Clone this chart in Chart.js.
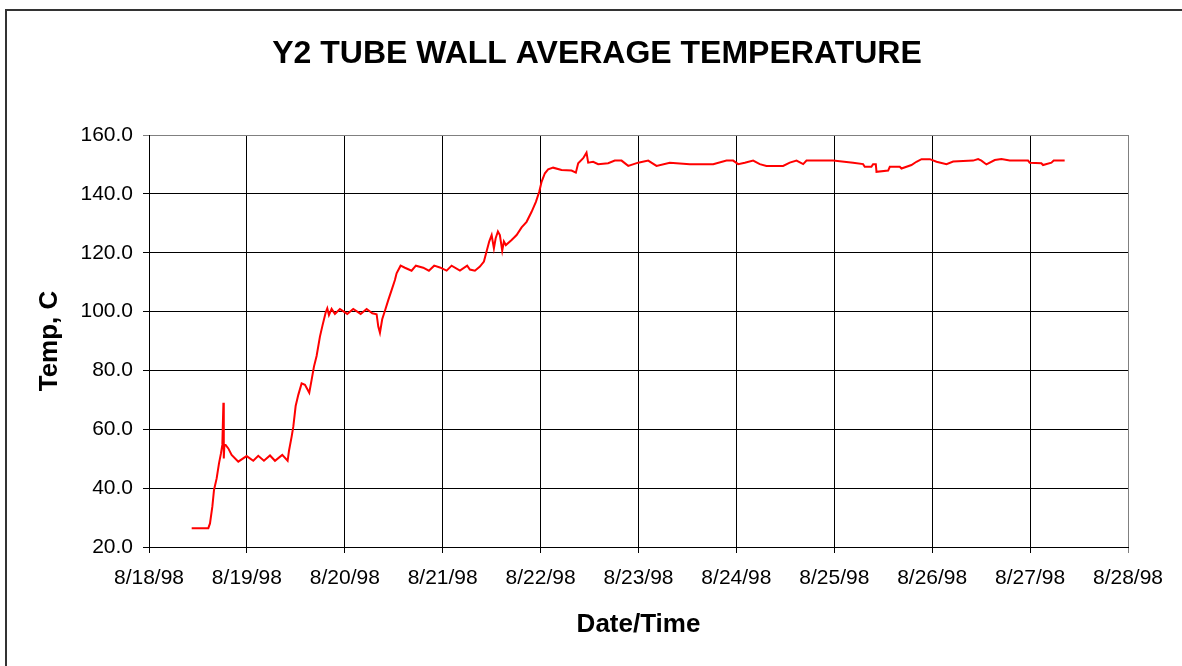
<!DOCTYPE html>
<html>
<head>
<meta charset="utf-8">
<script src="https://cdn.jsdelivr.net/npm/chart.js@4"></script>
<style>
  html, body { margin: 0; padding: 0; background: #fff; }
  #wrap { width: 1182px; height: 666px; }
</style>
</head>
<body>
<div id="wrap"><canvas id="tempChart"></canvas></div>
<script>
// Dados do gráfico (dias desde 8/18/98, temperatura em C)
const chartTitle = 'Y2 TUBE WALL AVERAGE TEMPERATURE';
const dateLabels = ['8/18/98', '8/19/98', '8/20/98', '8/21/98', '8/22/98', '8/23/98',
                    '8/24/98', '8/25/98', '8/26/98', '8/27/98', '8/28/98'];
const dayOffsets = [
  0.436, 0.606, 0.623, 0.647, 0.664, 0.691, 0.715, 0.735, 0.749, 0.760, 0.764, 0.770,
  0.783, 0.810, 0.844, 0.912, 0.997, 1.065, 1.116, 1.174, 1.236, 1.287, 1.361, 1.416,
  1.430, 1.457, 1.474, 1.498, 1.525, 1.559, 1.593, 1.637, 1.661, 1.685, 1.712, 1.746,
  1.773, 1.804, 1.821, 1.838, 1.865, 1.899, 1.950, 2.025, 2.086, 2.162, 2.223, 2.281,
  2.325, 2.342, 2.359, 2.382, 2.410, 2.444, 2.478, 2.512, 2.529, 2.570, 2.614, 2.682,
  2.726, 2.801, 2.859, 2.913, 2.971, 3.040, 3.091, 3.176, 3.250, 3.278, 3.329, 3.380,
  3.421, 3.448, 3.475, 3.500, 3.523, 3.541, 3.564, 3.584, 3.608, 3.625, 3.645, 3.704,
  3.755, 3.806, 3.857, 3.908, 3.952, 3.986, 4.010, 4.044, 4.077, 4.128, 4.214, 4.316,
  4.360, 4.384, 4.435, 4.469, 4.486, 4.537, 4.588, 4.690, 4.758, 4.827, 4.895, 4.997,
  5.099, 5.184, 5.320, 5.524, 5.763, 5.899, 5.967, 6.018, 6.086, 6.171, 6.239, 6.307,
  6.477, 6.545, 6.614, 6.682, 6.716, 6.988, 7.192, 7.294, 7.311, 7.379, 7.396, 7.424,
  7.431, 7.550, 7.567, 7.669, 7.686, 7.788, 7.839, 7.891, 7.976, 8.044, 8.146, 8.214,
  8.418, 8.469, 8.503, 8.554, 8.639, 8.707, 8.792, 8.979, 8.996, 9.115, 9.132, 9.218,
  9.241, 9.353
];
const temps = [
  26.4, 26.4, 28.0, 33.7, 39.4, 43.3, 48.4, 51.8, 54.7, 69.0, 50.1, 54.7,
  54.7, 53.5, 51.3, 49.0, 50.9, 49.3, 51.0, 49.3, 51.1, 49.3, 51.3, 49.3,
  52.7, 57.5, 60.9, 67.9, 71.7, 75.6, 75.1, 72.4, 76.8, 81.3, 84.9, 91.5,
  95.4, 99.6, 101.1, 98.8, 100.9, 99.2, 100.9, 99.2, 100.9, 99.2, 100.9, 99.4,
  99.1, 94.9, 92.8, 97.4, 100.3, 103.9, 107.3, 110.7, 113.0, 115.6, 114.9, 113.9,
  115.6, 114.9, 113.9, 115.6, 115.0, 113.9, 115.6, 113.9, 115.6, 114.3, 113.9, 115.3,
  117.0, 120.4, 123.8, 126.0, 121.5, 124.9, 127.2, 126.0, 120.7, 123.8, 122.6, 124.3,
  126.0, 128.6, 130.5, 133.9, 137.3, 140.7, 144.1, 147.0, 148.3, 148.9, 148.1, 147.9,
  147.2, 150.4, 152.1, 154.0, 150.6, 150.9, 150.1, 150.4, 151.3, 151.3, 149.5, 150.6,
  151.3, 149.5, 150.6, 150.1, 150.1, 151.3, 151.3, 150.1, 150.6, 151.3, 150.1, 149.5,
  149.5, 150.6, 151.3, 150.1, 151.3, 151.3, 150.6, 150.1, 149.2, 149.2, 150.1, 150.1,
  147.5, 147.9, 149.2, 149.2, 148.6, 149.8, 150.9, 151.8, 151.8, 150.9, 150.1, 151.0,
  151.3, 151.8, 151.3, 150.0, 151.5, 151.8, 151.3, 151.3, 150.6, 150.4, 149.8, 150.6,
  151.3, 151.3
];
const yMin = 20, yMax = 160, yStep = 20;

const FONT = "'Liberation Sans', Arial, sans-serif";

// Moldura e título desenhados no canvas
const framePlugin = {
  id: 'frame',
  afterDraw(chart) {
    const c = chart.ctx;
    c.save();
    c.strokeStyle = '#333';
    c.lineWidth = 2;
    c.strokeRect(6, 10, 1200, 700);
    c.fillStyle = '#000';
    c.font = 'bold 32px ' + FONT;
    c.textAlign = 'center';
    c.textBaseline = 'middle';
    c.fillText(chartTitle, 597, 54);
    c.restore();
  }
};

const ctx = document.getElementById('tempChart').getContext('2d');
new Chart(ctx, {
  type: 'line',
  data: {
    datasets: [{
      data: dayOffsets.map((d, i) => ({ x: d, y: temps[i] })),
      borderColor: '#FF0000',
      borderWidth: 2,
      pointRadius: 0,
      tension: 0,
      fill: false
    }]
  },
  options: {
    responsive: true,
    maintainAspectRatio: false,
    animation: false,
    layout: { padding: { left: 30, right: 54, top: 135, bottom: 22 } },
    plugins: {
      legend: { display: false },
      tooltip: { enabled: false }
    },
    scales: {
      x: {
        type: 'linear',
        min: 0, max: 10,
        afterFit(scale) { scale.height = 97; },
        ticks: {
          stepSize: 1,
          autoSkip: false,
          maxRotation: 0,
          padding: 13,
          color: '#000',
          font: { family: FONT, size: 21 },
          callback: (v, i) => dateLabels[i]
        },
        grid: {
          color: ctx => ctx.tick && ctx.tick.value === 10 ? '#808080' : '#000',
          lineWidth: 1,
          tickLength: 6
        },
        border: { color: '#000', width: 1 },
        title: {
          display: true,
          text: 'Date/Time',
          color: '#000',
          font: { family: FONT, size: 26, weight: 'bold' }
        }
      },
      y: {
        min: yMin, max: yMax,
        afterFit(scale) { scale.width = 119; },
        ticks: {
          stepSize: yStep,
          padding: 10,
          color: '#000',
          font: { family: FONT, size: 21 },
          callback: v => v.toFixed(1)
        },
        grid: {
          color: ctx => ctx.tick && ctx.tick.value === yMax ? '#808080' : '#000',
          lineWidth: 1,
          tickLength: 6
        },
        border: { color: '#000', width: 1 },
        title: {
          display: true,
          text: 'Temp, C',
          color: '#000',
          font: { family: FONT, size: 26, weight: 'bold' }
        }
      }
    }
  },
  plugins: [framePlugin]
});
</script>
</body>
</html>
